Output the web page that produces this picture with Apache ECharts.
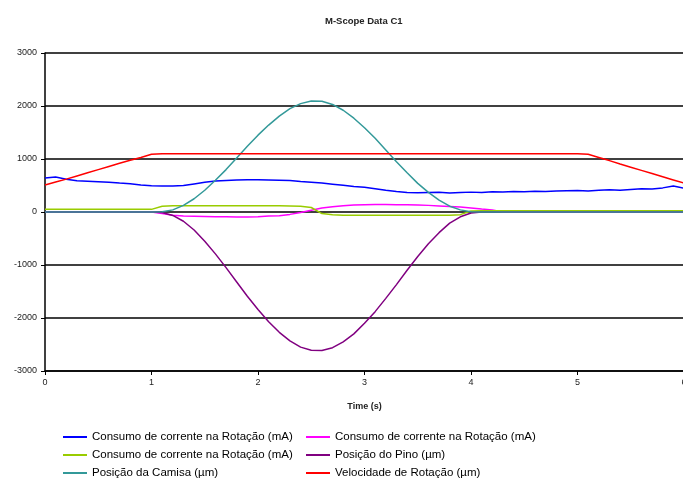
<!DOCTYPE html>
<html>
<head>
<meta charset="utf-8">
<script src="https://cdn.jsdelivr.net/npm/echarts@6/dist/echarts.min.js"></script>
<style>
  html, body { margin: 0; padding: 0; background: #fff; }
  #chart { width: 683px; height: 485px; }
</style>
</head>
<body>
<div id="chart"></div>
<script>
// tempo (s), amostras a cada 0,1 s
var tempo = [0.0,0.1,0.2,0.3,0.4,0.5,0.6,0.7,0.8,0.9,1.0,
  1.1,1.2,1.3,1.4,1.5,1.6,1.7,1.8,1.9,2.0,
  2.1,2.2,2.3,2.4,2.5,2.6,2.7,2.8,2.9,3.0,
  3.1,3.2,3.3,3.4,3.5,3.6,3.7,3.8,3.9,4.0,
  4.1,4.2,4.3,4.4,4.5,4.6,4.7,4.8,4.9,5.0,
  5.1,5.2,5.3,5.4,5.5,5.6,5.7,5.8,5.9,6.0]

// Consumo de corrente na Rotação (mA) - azul
var consumo1 = [640,660,620,590,580,570,560,545,535,510,495,
  490,490,500,530,560,585,595,605,610,610,
  605,600,595,575,560,545,525,505,480,465,
  440,410,385,370,365,370,372,360,368,375,
  370,380,378,385,380,392,388,395,400,405,
  398,412,418,410,425,440,435,455,490,450]

// Consumo de corrente na Rotação (mA) - magenta
var consumo2 = [0,0,0,0,0,0,0,0,0,0,0,
  -30,-60,-75,-80,-85,-90,-90,-92,-95,-90,
  -75,-70,-45,-10,35,75,100,120,130,135,
  140,140,138,135,130,125,115,105,95,75,
  55,40,0,0,0,0,0,0,0,0,
  0,0,0,0,0,0,0,0,0,0]

// Consumo de corrente na Rotação (mA) - verde claro
var consumo3 = [50,50,50,50,50,50,50,50,50,50,50,
  110,120,120,120,120,120,120,120,120,120,
  120,120,115,110,85,-30,-50,-60,-60,-60,
  -60,-60,-60,-60,-60,-60,-60,-60,-50,20,
  25,25,25,25,25,25,25,25,25,25,
  25,25,25,25,25,25,25,25,25,25]

// Posição do Pino (µm)
var pino = [0,0,0,0,0,0,0,0,0,0,0,
  -10,-65,-175,-340,-550,-790,-1050,-1320,-1590,-1840,
  -2070,-2270,-2430,-2550,-2610,-2615,-2560,-2450,-2300,-2100,
  -1880,-1630,-1370,-1100,-840,-600,-390,-210,-90,-20,
  0,0,0,0,0,0,0,0,0,0,
  0,0,0,0,0,0,0,0,0,0]

// Posição da Camisa (µm)
var camisa = [0,0,0,0,0,0,0,0,0,0,0,
  5,40,125,250,410,600,800,1020,1240,1450,
  1640,1810,1950,2045,2095,2090,2030,1920,1770,1590,
  1390,1170,950,740,540,370,225,110,40,5,
  0,0,0,0,0,0,0,0,0,0,
  0,0,0,0,0,0,0,0,0,0]

// Velocidade de Rotação (µm)
var velocidade = [510,565,620,680,740,800,860,920,975,1030,1090,
  1100,1100,1100,1100,1100,1100,1100,1100,1100,1100,
  1100,1100,1100,1100,1100,1100,1100,1100,1100,1100,
  1100,1100,1100,1100,1100,1100,1100,1100,1100,1100,
  1100,1100,1100,1100,1100,1100,1100,1100,1100,1100,
  1090,1030,970,905,845,785,725,665,605,545]

var legendas = {
  c1: 'Consumo de corrente na Rotação (mA)',
  c2: 'Consumo de corrente na Rotação (mA)',
  c3: 'Consumo de corrente na Rotação (mA)',
  pino: 'Posição do Pino (µm)',
  camisa: 'Posição da Camisa (µm)',
  vel: 'Velocidade de Rotação (µm)'
}

function pares(valores) {
  return tempo.map(function (t, i) { return [t, valores[i]] })
}

function linha(nome, valores, cor) {
  return {
    name: nome,
    type: 'line',
    symbol: 'none',
    data: pares(valores),
    lineStyle: { color: cor, width: 1.5 },
    itemStyle: { color: cor },
    animation: false
  }
}

var fonte = 'Liberation Sans'

// uma legenda por item, para alinhar as duas colunas
function legenda(nome, left, top) {
  return {
    data: [nome],
    left: left,
    top: top,
    icon: 'rect',
    itemWidth: 24,
    itemHeight: 2,
    padding: 0,
    selectedMode: false,
    formatter: function (n) { return legendas[n] },
    textStyle: { fontFamily: fonte, fontSize: 11.5, color: '#000' }
  }
}

var chart = echarts.init(document.getElementById('chart'))

chart.setOption({
  backgroundColor: '#fff',
  title: {
    text: 'M-Scope Data C1',
    left: 320,
    top: 11,
    textStyle: { fontFamily: fonte, fontSize: 9.5, fontWeight: 'bold', color: '#222' }
  },
  legend: [
    legenda('c1', 63, 431),
    legenda('c3', 63, 449),
    legenda('camisa', 63, 467),
    legenda('c2', 306, 431),
    legenda('pino', 306, 449),
    legenda('vel', 306, 467)
  ],
  grid: {
    left: 45,
    right: -1,
    top: 53,
    bottom: 114,
    containLabel: false,
    outerBoundsMode: 'none'
  },
  xAxis: {
    type: 'value',
    min: 0,
    max: 6,
    interval: 1,
    name: 'Time (s)',
    nameLocation: 'middle',
    nameGap: 31,
    nameTextStyle: { fontFamily: fonte, fontSize: 9, fontWeight: 'bold', color: '#222' },
    axisLine: { onZero: false, lineStyle: { color: '#000', width: 1.5 } },
    axisTick: { length: 4, lineStyle: { color: '#000' } },
    axisLabel: { fontFamily: fonte, fontSize: 9, color: '#222', margin: 7 },
    splitLine: { show: false }
  },
  yAxis: {
    type: 'value',
    min: -3000,
    max: 3000,
    interval: 1000,
    axisLine: { show: true, lineStyle: { color: '#000', width: 1.5 } },
    axisTick: { show: true, length: 4, lineStyle: { color: '#000' } },
    axisLabel: {
      fontFamily: fonte, fontSize: 9, color: '#222', margin: 8,
      formatter: function (v) { return String(v) }
    },
    splitLine: { lineStyle: { color: '#000', width: 1.5 } }
  },
  series: [
    linha('c1', consumo1, '#0000ff'),
    linha('c2', consumo2, '#ff00ff'),
    linha('c3', consumo3, '#99cc00'),
    linha('pino', pino, '#800080'),
    linha('camisa', camisa, '#339999'),
    linha('vel', velocidade, '#ff0000')
  ]
})
</script>
</body>
</html>
